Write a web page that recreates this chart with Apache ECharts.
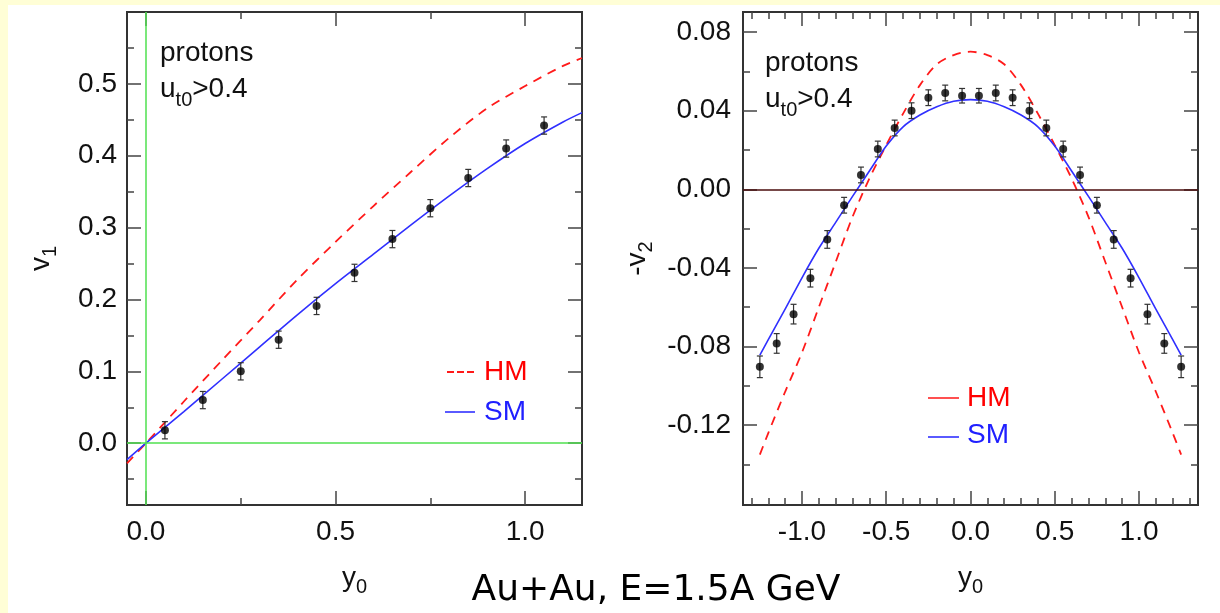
<!DOCTYPE html>
<html><head><meta charset="utf-8">
<script src="https://cdn.jsdelivr.net/npm/echarts@6/dist/echarts.min.js"></script>
<style>html,body{margin:0;padding:0;background:#fff}#c{width:1220px;height:613px}</style>
</head><body><div id="c"></div>
<script>
// ---------- data: left panel (v1) ----------
const v1CurveX = [-0.05, 0, 0.1, 0.2, 0.3, 0.4, 0.5, 0.6, 0.7, 0.8, 0.9, 1.0, 1.1, 1.15];
const v1HM     = [-0.028, 0, 0.058, 0.115, 0.171, 0.228, 0.280, 0.330, 0.378, 0.425, 0.466, 0.497, 0.525, 0.536];
const v1SM     = [-0.023, 0, 0.044, 0.089, 0.134, 0.179, 0.222, 0.263, 0.304, 0.344, 0.382, 0.417, 0.447, 0.460];
const v1DataX  = [0.05, 0.15, 0.25, 0.35, 0.45, 0.55, 0.65, 0.75, 0.85, 0.95, 1.05];
const v1DataY  = [0.018, 0.060, 0.100, 0.144, 0.191, 0.237, 0.284, 0.327, 0.369, 0.410, 0.442];
const v1Err    = [0.012, 0.012, 0.012, 0.012, 0.012, 0.012, 0.012, 0.012, 0.012, 0.012, 0.012];
const v1XMajor = [0, 0.5, 1.0];
const v1XMinor = [0.25, 0.75];
const v1YMajor = [0, 0.1, 0.2, 0.3, 0.4, 0.5];
const v1YMinor = [-0.05, 0.05, 0.15, 0.25, 0.35, 0.45, 0.55];

// ---------- data: right panel (-v2) ----------
const v2CurveX = [-1.25, -1.2, -1.1, -1.0, -0.9, -0.8, -0.7, -0.6, -0.5, -0.4, -0.3, -0.2, -0.1, 0,
                  0.1, 0.2, 0.3, 0.4, 0.5, 0.6, 0.7, 0.8, 0.9, 1.0, 1.1, 1.2, 1.25];
const v2HM = [-0.1350, -0.1240, -0.1030, -0.0830, -0.0600, -0.0370, -0.0140, 0.0055, 0.0225, 0.0385, 0.0530, 0.0636, 0.0683, 0.0700,
              0.0683, 0.0636, 0.0530, 0.0385, 0.0225, 0.0055, -0.0140, -0.0370, -0.0600, -0.0830, -0.1030, -0.1240, -0.1350];
const v2SM = [-0.0844, -0.0765, -0.0610, -0.0450, -0.0300, -0.0168, -0.0036, 0.0093, 0.0220, 0.0318, 0.0378, 0.0420, 0.0448, 0.0456,
              0.0448, 0.0420, 0.0378, 0.0318, 0.0220, 0.0093, -0.0036, -0.0168, -0.0300, -0.0450, -0.0610, -0.0765, -0.0844];
const v2DataX = [-1.25, -1.15, -1.05, -0.95, -0.85, -0.75, -0.65, -0.55, -0.45, -0.35, -0.25, -0.15, -0.05,
                 0.05, 0.15, 0.25, 0.35, 0.45, 0.55, 0.65, 0.75, 0.85, 0.95, 1.05, 1.15, 1.25];
const v2DataY = [-0.0903, -0.0784, -0.0635, -0.0452, -0.0255, -0.0081, 0.0073, 0.0205, 0.0312, 0.0400, 0.0466, 0.0490, 0.0476,
                 0.0476, 0.0490, 0.0466, 0.0400, 0.0312, 0.0205, 0.0073, -0.0081, -0.0255, -0.0452, -0.0635, -0.0784, -0.0903];
const v2Err = [0.0055, 0.005, 0.005, 0.0045, 0.0045, 0.004, 0.004, 0.004, 0.004, 0.004, 0.004, 0.004, 0.0037,
               0.0037, 0.004, 0.004, 0.004, 0.004, 0.004, 0.004, 0.004, 0.0045, 0.0045, 0.005, 0.005, 0.0055];
const v2XMajor = [-1.0, -0.5, 0, 0.5, 1.0];
const v2XMinor = [-1.3, -1.2, -1.1, -0.9, -0.8, -0.7, -0.6, -0.4, -0.3, -0.2, -0.1,
                  0.1, 0.2, 0.3, 0.4, 0.6, 0.7, 0.8, 0.9, 1.1, 1.2, 1.3];
const v2YMajor = [-0.12, -0.08, -0.04, 0, 0.04, 0.08];
const v2YMinor = [-0.14, -0.10, -0.06, -0.02, 0.02, 0.06];

// ---------- styling ----------
const FONT = 'Liberation Sans, Arial, Helvetica, sans-serif';
const TICK = '#444';
const RED = '#ff1a1a';
const BLUE = '#3030ff';

function zip(a, b) { return a.map((v, i) => [v, b[i]]); }
function zip3(a, b, c) { return a.map((v, i) => [v, b[i], c[i]]); }

function xAx(grid, min, max, vals, opts) {
  return Object.assign({
    type: 'value', gridIndex: grid, min: min, max: max, position: 'bottom',
    axisLine: { show: false, onZero: false }, splitLine: { show: false },
    axisTick: { show: true, inside: true, length: 14, customValues: vals, lineStyle: { color: TICK, width: 1.5 } },
    axisLabel: { show: false }
  }, opts || {});
}
function yAx(grid, min, max, vals, opts) {
  return Object.assign({
    type: 'value', gridIndex: grid, min: min, max: max, position: 'left',
    axisLine: { show: false, onZero: false }, splitLine: { show: false },
    axisTick: { show: true, inside: true, length: 14, customValues: vals, lineStyle: { color: TICK, width: 1.5 } },
    axisLabel: { show: false }
  }, opts || {});
}
function minorTick(vals) {
  return { show: true, inside: true, length: 7, customValues: vals, lineStyle: { color: TICK, width: 1.5 } };
}
function lbl(vals, digits, margin) {
  return { show: true, customValues: vals, margin: margin, fontFamily: FONT, fontSize: 28, color: '#111',
           formatter: v => Number(v).toFixed(digits) };
}
const subRich = {
  a: { fontFamily: FONT, fontSize: 28, color: '#111', lineHeight: 30, padding: [0, 0, 5, 0], verticalAlign: 'bottom' },
  s: { fontFamily: FONT, fontSize: 20, color: '#111', lineHeight: 22, verticalAlign: 'bottom' }
};

const L = [-0.05, 1.15], LY = [-0.086, 0.6];
const R = [-1.35, 1.35], RY = [-0.1606, 0.0902];

const xAxis = [
  // left grid
  xAx(0, L[0], L[1], v1XMajor, { axisLabel: lbl(v1XMajor, 1, 13),
      name: '{a|y}{s|0}', nameLocation: 'middle', nameGap: 62, nameTextStyle: { rich: subRich } }),
  xAx(0, L[0], L[1], v1XMinor, { axisTick: minorTick(v1XMinor) }),
  xAx(0, L[0], L[1], v1XMajor, { position: 'top' }),
  xAx(0, L[0], L[1], v1XMinor, { position: 'top', axisTick: minorTick(v1XMinor) }),
  // right grid
  xAx(1, R[0], R[1], v2XMajor, { axisLabel: lbl(v2XMajor, 1, 13),
      name: '{a|y}{s|0}', nameLocation: 'middle', nameGap: 62, nameTextStyle: { rich: subRich } }),
  xAx(1, R[0], R[1], v2XMinor, { axisTick: minorTick(v2XMinor) }),
  xAx(1, R[0], R[1], v2XMajor, { position: 'top' }),
  xAx(1, R[0], R[1], v2XMinor, { position: 'top', axisTick: minorTick(v2XMinor) })
];
const yAxis = [
  yAx(0, LY[0], LY[1], v1YMajor, { axisLabel: lbl(v1YMajor, 1, 10),
      name: '{a|v}{s|1}', nameLocation: 'middle', nameGap: 67, nameRotate: 90, nameTextStyle: { rich: subRich } }),
  yAx(0, LY[0], LY[1], v1YMinor, { axisTick: minorTick(v1YMinor) }),
  yAx(0, LY[0], LY[1], v1YMajor, { position: 'right' }),
  yAx(0, LY[0], LY[1], v1YMinor, { position: 'right', axisTick: minorTick(v1YMinor) }),
  yAx(1, RY[0], RY[1], v2YMajor, { axisLabel: lbl(v2YMajor, 2, 12),
      name: '{a|-v}{s|2}', nameLocation: 'middle', nameGap: 87, nameRotate: 90, nameTextStyle: { rich: subRich } }),
  yAx(1, RY[0], RY[1], v2YMinor, { axisTick: minorTick(v2YMinor) }),
  yAx(1, RY[0], RY[1], v2YMajor, { position: 'right' }),
  yAx(1, RY[0], RY[1], v2YMinor, { position: 'right', axisTick: minorTick(v2YMinor) })
];

function errBars(xi, yi, data) {
  return {
    type: 'custom', xAxisIndex: xi, yAxisIndex: yi, data: data, z: 4, silent: true,
    renderItem: function (params, api) {
      const x = api.value(0), y = api.value(1), e = api.value(2);
      const t = api.coord([x, y + e]), b = api.coord([x, y - e]);
      const st = { stroke: '#333', lineWidth: 1.2 };
      return { type: 'group', children: [
        { type: 'line', shape: { x1: t[0], y1: t[1], x2: b[0], y2: b[1] }, style: st },
        { type: 'line', shape: { x1: t[0] - 3, y1: t[1], x2: t[0] + 3, y2: t[1] }, style: st },
        { type: 'line', shape: { x1: b[0] - 3, y1: b[1], x2: b[0] + 3, y2: b[1] }, style: st }
      ]};
    }
  };
}

const series = [
  // left panel
  { type: 'line', xAxisIndex: 0, yAxisIndex: 0, data: [], silent: true, z: 1,
    markLine: { silent: true, symbol: 'none', label: { show: false }, animation: false,
      lineStyle: { color: '#4fe04f', width: 1.5, type: 'solid' },
      data: [{ xAxis: 0 }, { yAxis: 0 }] } },
  { name: 'HM', type: 'line', xAxisIndex: 0, yAxisIndex: 0, data: zip(v1CurveX, v1HM), smooth: 0.3,
    showSymbol: false, z: 2, lineStyle: { color: RED, width: 1.8, type: [9, 7] } },
  { name: 'SM', type: 'line', xAxisIndex: 0, yAxisIndex: 0, data: zip(v1CurveX, v1SM), smooth: 0.3,
    showSymbol: false, z: 2, lineStyle: { color: BLUE, width: 1.6 } },
  errBars(0, 0, zip3(v1DataX, v1DataY, v1Err)),
  { type: 'scatter', xAxisIndex: 0, yAxisIndex: 0, data: zip(v1DataX, v1DataY), symbolSize: 8, z: 5,
    itemStyle: { color: '#000' } },
  // right panel
  { type: 'line', xAxisIndex: 4, yAxisIndex: 4, data: [], silent: true, z: 1,
    markLine: { silent: true, symbol: 'none', label: { show: false }, animation: false,
      lineStyle: { color: '#4a0d0d', width: 1.6, type: 'solid' },
      data: [{ yAxis: 0 }] } },
  { name: 'HM', type: 'line', xAxisIndex: 4, yAxisIndex: 4, data: zip(v2CurveX, v2HM), smooth: 0.3,
    showSymbol: false, z: 2, lineStyle: { color: RED, width: 1.8, type: [9, 7] } },
  { name: 'SM', type: 'line', xAxisIndex: 4, yAxisIndex: 4, data: zip(v2CurveX, v2SM), smooth: 0.3,
    showSymbol: false, z: 2, lineStyle: { color: BLUE, width: 1.6 } },
  errBars(4, 4, zip3(v2DataX, v2DataY, v2Err)),
  { type: 'scatter', xAxisIndex: 4, yAxisIndex: 4, data: zip(v2DataX, v2DataY), symbolSize: 8, z: 5,
    itemStyle: { color: '#000' } }
];

const txt = (x, y, text, color) => ({
  type: 'text', x: x, y: y, z: 10,
  style: { text: text, fill: color, fontFamily: FONT, fontSize: 28, verticalAlign: 'middle' }
});
const annRich = {
  a: { fontFamily: FONT, fontSize: 28, fill: '#111', lineHeight: 30, padding: [0, 0, 7, 0], verticalAlign: 'bottom' },
  s: { fontFamily: FONT, fontSize: 20, fill: '#111', lineHeight: 22, verticalAlign: 'bottom' }
};
const richTxt = (x, y) => ({ type: 'text', x: x, y: y, z: 10,
  style: { text: '{a|u}{s|t0}{a|>0.4}', rich: annRich, verticalAlign: 'middle' } });

const graphic = [
  { type: 'rect', shape: { x: 0, y: 0, width: 1220, height: 5 }, style: { fill: '#fffed6' }, z: -1 },
  { type: 'rect', shape: { x: 0, y: 0, width: 8, height: 613 }, style: { fill: '#fffed6' }, z: -1 },
  // left annotations
  txt(160, 53, 'protons', '#111'),
  richTxt(160, 95),
  // left legend
  { type: 'line', shape: { x1: 447, y1: 372, x2: 475, y2: 372 }, style: { stroke: RED, lineWidth: 1.8, lineDash: [7, 3] }, z: 10 },
  txt(484, 372, 'HM', '#ff0000'),
  { type: 'line', shape: { x1: 445, y1: 412, x2: 475, y2: 412 }, style: { stroke: BLUE, lineWidth: 1.6 }, z: 10 },
  txt(484, 412, 'SM', '#2020ff'),
  // right annotations
  txt(765, 63, 'protons', '#111'),
  richTxt(765, 105),
  // right legend
  { type: 'line', shape: { x1: 928, y1: 398, x2: 959, y2: 398 }, style: { stroke: '#ff5050', lineWidth: 2 }, z: 10 },
  txt(967, 398, 'HM', '#ff0000'),
  { type: 'line', shape: { x1: 928, y1: 437, x2: 959, y2: 437 }, style: { stroke: BLUE, lineWidth: 1.6 }, z: 10 },
  txt(967, 435, 'SM', '#2020ff'),
  // bottom caption
  { type: 'text', x: 656, y: 591, z: 10,
    style: { text: 'Au+Au, E=1.5A GeV', fill: '#000', fontFamily: "'Comic Sans MS', 'DejaVu Sans', sans-serif",
             fontSize: 36, align: 'center', verticalAlign: 'middle' } }
];

const chart = echarts.init(document.getElementById('c'), null, { renderer: 'canvas' });
chart.setOption({
  backgroundColor: '#ffffff',
  animation: false,
  grid: [
    { left: 127, top: 12, width: 455, height: 493, show: true, borderColor: '#333', borderWidth: 2, backgroundColor: 'transparent' },
    { left: 743, top: 12, width: 455, height: 493, show: true, borderColor: '#333', borderWidth: 2, backgroundColor: 'transparent' }
  ],
  xAxis: xAxis,
  yAxis: yAxis,
  series: series,
  graphic: graphic
});
</script></body></html>
